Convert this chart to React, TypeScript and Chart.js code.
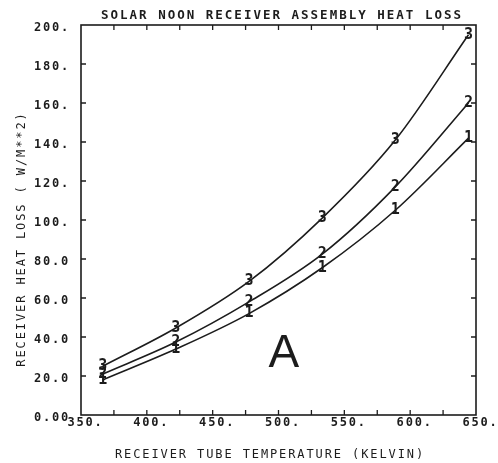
import React, { useEffect, useRef } from "react";
import { Chart, registerables } from "chart.js";

Chart.register(...registerables);

// Receiver tube temperature (K) at each computed point
const temperatures = [366.5, 422.0, 477.6, 533.2, 588.7, 644.3];
// Heat loss (W/m^2) for the three receiver configurations
const heatLoss1 = [18, 33.8, 52, 75.5, 105, 142];
const heatLoss2 = [21, 37.4, 58, 82.5, 117, 160];
const heatLoss3 = [25, 44.6, 68.5, 101, 141, 195];
const curveMarks = ["1", "2", "3"];

const xTickLabels = ["350.", "400.", "450.", "500.", "550.", "600.", "650."];
const yTickLabels = ["0.00", "20.0", "40.0", "60.0", "80.0", "100.", "120.", "140.", "160.", "180.", "200."];

const chartTitle = "SOLAR NOON RECEIVER ASSEMBLY HEAT LOSS";
const xTitle = "RECEIVER TUBE TEMPERATURE (KELVIN)";
const yTitle = "RECEIVER HEAT LOSS ( W/M**2)";
const panelLetter = "A";
const panelLetterAt = { x: 504, y: 32 };

const INK = "#1c1c1c";
const MONO = "'DejaVu Sans Mono', monospace";

const plotterStyle = {
  id: "plotterStyle",
  beforeUpdate(chart: any) {
    chart.ctx.letterSpacing = "1.8px";
  },
  beforeDraw(chart: any) {
    chart.ctx.letterSpacing = "1.8px";
  },
  afterDatasetsDraw(chart: any) {
    const ctx = chart.ctx;
    ctx.save();
    ctx.letterSpacing = "0px";
    ctx.fillStyle = INK;
    ctx.font = `bold 15px ${MONO}`;
    ctx.textAlign = "center";
    ctx.textBaseline = "middle";
    chart.data.datasets.forEach((ds: any, i: number) => {
      const meta = chart.getDatasetMeta(i);
      meta.data.forEach((pt: any) => {
        ctx.fillText(curveMarks[i], pt.x, pt.y);
      });
    });
    ctx.restore();
  },
  afterDraw(chart: any) {
    const ctx = chart.ctx;
    const { left, right, top, bottom } = chart.chartArea;
    const xs = chart.scales.x;
    const ys = chart.scales.y;
    ctx.save();
    ctx.strokeStyle = INK;
    ctx.lineWidth = 1.6;
    ctx.strokeRect(left, top, right - left, bottom - top);

    // inward tick marks on all four sides
    ctx.lineWidth = 1.3;
    ctx.beginPath();
    for (let v = 375; v < 650; v += 25) {
      const px = xs.getPixelForValue(v);
      ctx.moveTo(px, bottom);
      ctx.lineTo(px, bottom - 5);
      ctx.moveTo(px, top);
      ctx.lineTo(px, top + 5);
    }
    for (let v = 20; v < 200; v += 20) {
      const py = ys.getPixelForValue(v);
      ctx.moveTo(left, py);
      ctx.lineTo(left + 5, py);
      ctx.moveTo(right, py);
      ctx.lineTo(right - 5, py);
    }
    ctx.stroke();

    ctx.fillStyle = INK;
    ctx.textAlign = "center";
    ctx.textBaseline = "middle";
    ctx.font = `bold 12.5px ${MONO}`;
    ctx.letterSpacing = "2px";
    ctx.fillText(chartTitle, 282, 16);

    ctx.font = `12px ${MONO}`;
    ctx.letterSpacing = "1.9px";
    ctx.fillText(xTitle, 270, 455);

    ctx.save();
    ctx.translate(22, 239);
    ctx.rotate(-Math.PI / 2);
    ctx.fillText(yTitle, 0, 0);
    ctx.restore();

    ctx.letterSpacing = "0px";
    ctx.font = `46px 'Liberation Sans', sans-serif`;
    ctx.fillText(panelLetter, xs.getPixelForValue(panelLetterAt.x), ys.getPixelForValue(panelLetterAt.y) + 2);
    ctx.restore();
  },
};

export default function App() {
  const ref = useRef<HTMLCanvasElement>(null);

  useEffect(() => {
    if (!ref.current) return;
    const line = (data: number[]) => ({
      data: temperatures.map((t, i) => ({ x: t, y: data[i] })),
      borderColor: INK,
      borderWidth: 1.6,
      pointRadius: 0,
      cubicInterpolationMode: "monotone" as const,
      fill: false,
    });
    const tickFont = { family: MONO, size: 12, weight: "bold" as const };
    const chart = new Chart(ref.current, {
      type: "line",
      data: { datasets: [line(heatLoss1), line(heatLoss2), line(heatLoss3)] },
      options: {
        animation: false,
        responsive: false,
        layout: { padding: { left: 0, right: 22, top: 25, bottom: 0 } },
        plugins: { legend: { display: false }, tooltip: { enabled: false } },
        scales: {
          x: {
            type: "linear",
            min: 350,
            max: 650,
            grid: { display: false, drawTicks: false },
            border: { display: false },
            ticks: {
              stepSize: 50,
              padding: 1,
              labelOffset: 4.5,
              color: INK,
              font: tickFont,
              maxRotation: 0,
              autoSkip: false,
              callback: (_v: any, i: number) => xTickLabels[i],
            },
            afterFit: (s: any) => {
              s.height = 48;
            },
          },
          y: {
            type: "linear",
            min: 0,
            max: 200,
            grid: { display: false, drawTicks: false },
            border: { display: false },
            ticks: {
              stepSize: 20,
              padding: 11,
              labelOffset: 3,
              color: INK,
              font: tickFont,
              autoSkip: false,
              callback: (_v: any, i: number) => yTickLabels[i],
            },
            afterFit: (s: any) => {
              s.width = 81;
            },
          },
        },
      },
      plugins: [plotterStyle],
    });
    return () => chart.destroy();
  }, []);

  return (
    <div style={{ position: "absolute", left: 0, top: 0, width: 498, height: 463, background: "#fff" }}>
      <canvas ref={ref} width={498} height={463} style={{ display: "block" }} />
    </div>
  );
}
